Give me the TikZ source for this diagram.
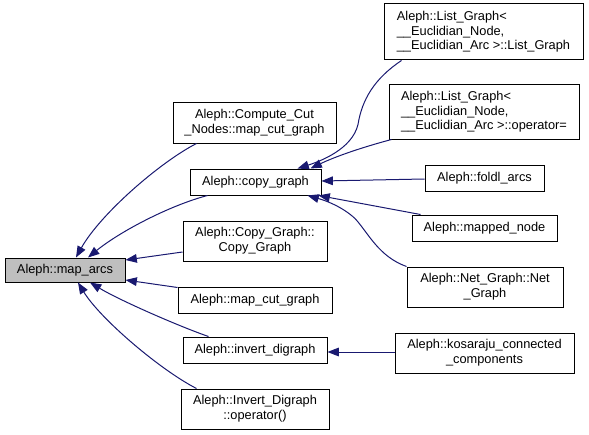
\documentclass[tikz,border=0pt]{standalone}
\usepackage{fontspec}
\setmainfont{Liberation Sans}
\usetikzlibrary{arrows.meta,calc}
\definecolor{edgeblue}{HTML}{191970}
\definecolor{fillgrey}{HTML}{BFBFBF}
\begin{document}
\begin{tikzpicture}[x=0.75pt,y=-0.75pt,
  box/.style={draw=black, line width=0.75pt, inner sep=0pt, align=center, font=\fontsize{9.6}{11}\selectfont},
  leftbox/.style={box, align=left},
  edge/.style={draw=edgeblue, line width=0.75pt, -{Triangle[length=8.5pt,width=6.5pt]}}]
\useasboundingbox (0,0) rectangle (589,435);
% left node
\node[box, fill=fillgrey, minimum width=90pt, minimum height=18pt] (ma) at (65,270) {Aleph::map\_arcs};
% middle column
\node[box, minimum width=122.25pt, minimum height=30pt] (ccn) at (254.5,123) {Aleph::Compute\_Cut\\\_Nodes::map\_cut\_graph};
\node[box, minimum width=98.25pt, minimum height=19.5pt] (cg) at (255.5,182) {Aleph::copy\_graph};
\node[box, minimum width=108pt, minimum height=30pt] (CG) at (255,241) {Aleph::Copy\_Graph::\\Copy\_Graph};
\node[box, minimum width=115.5pt, minimum height=19.5pt] (mcg) at (255,300) {Aleph::map\_cut\_graph};
\node[box, minimum width=108pt, minimum height=19.5pt] (id) at (255,350) {Aleph::invert\_digraph};
\node[box, minimum width=111pt, minimum height=30pt] (IDo) at (255,409) {Aleph::Invert\_Digraph\\::operator()};
% right column
\node[leftbox, minimum width=149.25pt, minimum height=42pt] (lg1) at (483.5,32) {Aleph::List\_Graph<\\\_\_Euclidian\_Node,\\\_\_Euclidian\_Arc >::List\_Graph};
\node[leftbox, minimum width=142.5pt, minimum height=40.5pt] (lg2) at (484,112) {Aleph::List\_Graph<\\\_\_Euclidian\_Node,\\\_\_Euclidian\_Arc >::operator=};
\node[box, minimum width=89.25pt, minimum height=19.5pt] (fa) at (484.5,178) {Aleph::foldl\_arcs};
\node[box, minimum width=108.75pt, minimum height=19.5pt] (mn) at (484.5,228) {Aleph::mapped\_node};
\node[box, minimum width=117pt, minimum height=30pt] (ng) at (485,287) {Aleph::Net\_Graph::Net\\\_Graph};
\node[box, minimum width=134.25pt, minimum height=30pt] (kc) at (484.5,353) {Aleph::kosaraju\_connected\\\_components};
% edges to map_arcs
\draw[edge] ($(ccn.south west)+(24,0)$) .. controls +(-37,19) and +(24,-43) .. ($(ma.north)+(11,0)$);
\draw[edge] ($(cg.south west)+(18,0)$) .. controls +(-38,10) and +(32,-26) .. ($(ma.north)+(23,0)$);
\draw[edge] ($(CG.west)+(0,11)$) -- ($(ma.east)+(0,-10)$);
\draw[edge] ($(mcg.north west)+(0,1)$) -- ($(ma.east)+(0,10)$);
\draw[edge] ($(id.north west)+(26,0)$) .. controls +(-29,-10) and +(30,18) .. ($(ma.south)+(25,0)$);
\draw[edge] ($(IDo.north west)+(16,0)$) .. controls +(-37,-19) and +(22,36) .. ($(ma.south)+(13,0)$);
% edges to copy_graph
\draw[edge] ($(lg1.south west)+(18,0)$) .. controls +(-27,18) and +(4,-25) .. ($(cg.north)+(102.5,-44)$) .. controls +(-6,25) and +(22,-7) .. ($(cg.north)+(42,0)$);
\draw[edge] ($(lg2.south west)+(3,0)$) .. controls +(-30,8) and +(25,-12) .. ($(cg.north)+(55,0)$);
\draw[edge] ($(fa.west)+(0,1)$) -- ($(cg.east)+(0,-1)$);
\draw[edge] ($(mn.north west)+(9,0)$) -- ($(cg.south)+(63,0)$);
\draw[edge] (ng.north west) .. controls +(-28,-10) and +(13,14) .. ($(cg.south)+(99.5,23)$) .. controls +(-13,-12) and +(18,5) .. ($(cg.south)+(52,0)$);
% edge to invert_digraph
\draw[edge] ($(kc.west)+(0,-1)$) -- ($(id.east)+(0,2)$);
\end{tikzpicture}
\end{document}
